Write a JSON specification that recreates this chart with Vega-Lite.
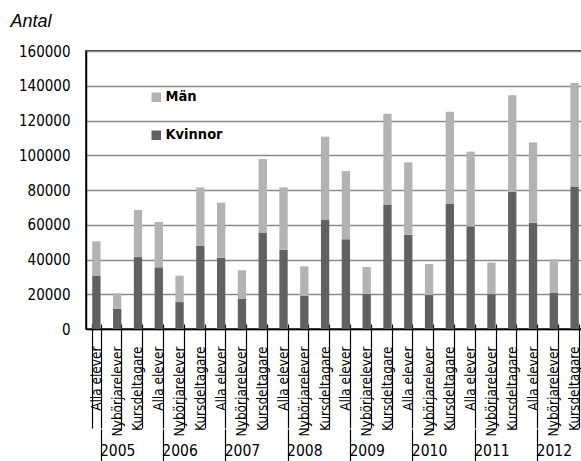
{
  "$schema": "https://vega.github.io/schema/vega-lite/v6.json",
  "width": 499,
  "height": 278,
  "autosize": {"type": "none"},
  "padding": {"left": 86, "top": 51, "right": 0, "bottom": 132},
  "config": {"font": "DejaVu Sans Condensed", "view": {"stroke": "#000", "strokeWidth": 1.5}},
  "data": {"values": [
    {"k": "2005|Alla elever", "sex": "Kvinnor", "v": 30500}, {"k": "2005|Alla elever", "sex": "Män", "v": 20000},
    {"k": "2005|Nybörjarelever", "sex": "Kvinnor", "v": 11500}, {"k": "2005|Nybörjarelever", "sex": "Män", "v": 9000},
    {"k": "2005|Kursdeltagare", "sex": "Kvinnor", "v": 41400}, {"k": "2005|Kursdeltagare", "sex": "Män", "v": 27100},
    {"k": "2006|Alla elever", "sex": "Kvinnor", "v": 35500}, {"k": "2006|Alla elever", "sex": "Män", "v": 26100},
    {"k": "2006|Nybörjarelever", "sex": "Kvinnor", "v": 15500}, {"k": "2006|Nybörjarelever", "sex": "Män", "v": 15200},
    {"k": "2006|Kursdeltagare", "sex": "Kvinnor", "v": 47800}, {"k": "2006|Kursdeltagare", "sex": "Män", "v": 33700},
    {"k": "2007|Alla elever", "sex": "Kvinnor", "v": 41000}, {"k": "2007|Alla elever", "sex": "Män", "v": 31700},
    {"k": "2007|Nybörjarelever", "sex": "Kvinnor", "v": 17300}, {"k": "2007|Nybörjarelever", "sex": "Män", "v": 16500},
    {"k": "2007|Kursdeltagare", "sex": "Kvinnor", "v": 55600}, {"k": "2007|Kursdeltagare", "sex": "Män", "v": 42200},
    {"k": "2008|Alla elever", "sex": "Kvinnor", "v": 45600}, {"k": "2008|Alla elever", "sex": "Män", "v": 35900},
    {"k": "2008|Nybörjarelever", "sex": "Kvinnor", "v": 19200}, {"k": "2008|Nybörjarelever", "sex": "Män", "v": 16900},
    {"k": "2008|Kursdeltagare", "sex": "Kvinnor", "v": 62700}, {"k": "2008|Kursdeltagare", "sex": "Män", "v": 48000},
    {"k": "2009|Alla elever", "sex": "Kvinnor", "v": 51600}, {"k": "2009|Alla elever", "sex": "Män", "v": 39300},
    {"k": "2009|Nybörjarelever", "sex": "Kvinnor", "v": 20100}, {"k": "2009|Nybörjarelever", "sex": "Män", "v": 15600},
    {"k": "2009|Kursdeltagare", "sex": "Kvinnor", "v": 71600}, {"k": "2009|Kursdeltagare", "sex": "Män", "v": 52300},
    {"k": "2010|Alla elever", "sex": "Kvinnor", "v": 54300}, {"k": "2010|Alla elever", "sex": "Män", "v": 41600},
    {"k": "2010|Nybörjarelever", "sex": "Kvinnor", "v": 19600}, {"k": "2010|Nybörjarelever", "sex": "Män", "v": 17800},
    {"k": "2010|Kursdeltagare", "sex": "Kvinnor", "v": 72300}, {"k": "2010|Kursdeltagare", "sex": "Män", "v": 52800},
    {"k": "2011|Alla elever", "sex": "Kvinnor", "v": 59100}, {"k": "2011|Alla elever", "sex": "Män", "v": 43000},
    {"k": "2011|Nybörjarelever", "sex": "Kvinnor", "v": 20100}, {"k": "2011|Nybörjarelever", "sex": "Män", "v": 18100},
    {"k": "2011|Kursdeltagare", "sex": "Kvinnor", "v": 79000}, {"k": "2011|Kursdeltagare", "sex": "Män", "v": 55500},
    {"k": "2012|Alla elever", "sex": "Kvinnor", "v": 61200}, {"k": "2012|Alla elever", "sex": "Män", "v": 46200},
    {"k": "2012|Nybörjarelever", "sex": "Kvinnor", "v": 20700}, {"k": "2012|Nybörjarelever", "sex": "Män", "v": 19400},
    {"k": "2012|Kursdeltagare", "sex": "Kvinnor", "v": 81700}, {"k": "2012|Kursdeltagare", "sex": "Män", "v": 59900}
  ]},
  "encoding": {
    "y": {
      "field": "v", "type": "quantitative",
      "scale": {"domain": [0, 160000]},
      "axis": {
        "title": "Antal", "titleAngle": 0, "titleAlign": "left", "titleBaseline": "alphabetic",
        "titleX": -76, "titleY": -25, "titleFont": "Liberation Sans", "titleFontStyle": "italic",
        "titleFontWeight": "normal", "titleFontSize": 18, "titleColor": "#000",
        "values": [0, 20000, 40000, 60000, 80000, 100000, 120000, 140000, 160000],
        "format": "d", "labelFont": "DejaVu Sans Condensed", "labelFontSize": 15, "labelColor": "#000", "labelOverlap": false,
        "ticks": false, "tickSize": 0, "labelPadding": 16,
        "domainColor": "#000", "domainWidth": 1.5,
        "gridColor": "#8a8a8a", "gridWidth": 1.5
      }
    }
  },
  "layer": [
    {
      "mark": {"type": "bar"},
      "encoding": {
        "x": {
          "field": "k", "type": "nominal", "sort": null,
          "scale": {"paddingInner": 0.6, "paddingOuter": 0.3},
          "axis": {
            "orient": "bottom", "title": null,
            "labelExpr": "split(datum.value,'|')[1]",
            "labelFont": "DejaVu Sans Condensed",
            "labelAngle": -90, "labelFontSize": 13.5, "labelColor": "#000",
            "tickBand": "extent", "tickSize": 99, "tickColor": "#000", "tickWidth": 1.2,
            "labelPadding": -82, "domainColor": "#000", "domainWidth": 1.5
          }
        },
        "color": {
          "field": "sex", "type": "nominal",
          "scale": {"domain": ["Män", "Kvinnor"], "range": ["#b3b3b3", "#616161"]},
          "legend": {
            "title": null, "orient": "none", "legendX": 63, "legendY": 39, "padding": 0,
            "symbolType": "square", "symbolSize": 90, "symbolStrokeWidth": 0,
            "labelFont": "DejaVu Sans Condensed",
            "labelFontSize": 14.5, "labelFontWeight": "bold", "labelColor": "#000",
            "labelOffset": 2, "rowPadding": 23
          }
        },
        "order": {"field": "sex", "sort": "ascending"}
      }
    },
    {
      "mark": {"type": "bar", "opacity": 0},
      "encoding": {
        "x": {
          "field": "k", "type": "nominal", "sort": null,
          "axis": {
            "orient": "bottom", "offset": 100, "domain": false, "title": null,
            "labelAngle": 0,
            "labelExpr": "split(datum.value,'|')[1] == 'Nybörjarelever' ? split(datum.value,'|')[0] : ''",
            "labelFont": "DejaVu Sans Condensed",
            "labelFontSize": 15.5, "labelColor": "#000", "labelPadding": -18,
            "tickBand": "extent", "tickSize": 32, "tickColor": "#000", "tickWidth": 1.2,
            "tickOpacity": {"condition": {"test": "split(datum.value,'|')[1] == 'Alla elever'", "value": 1}, "value": 0}
          }
        }
      }
    },
    {
      "mark": {"type": "bar", "opacity": 0},
      "encoding": {
        "x": {
          "field": "k", "type": "nominal", "sort": null,
          "axis": {
            "orient": "bottom", "offset": -5, "domain": false, "title": null,
            "labels": false,
            "tickBand": "extent", "tickSize": 6, "tickColor": "#000", "tickWidth": 1.2
          }
        }
      }
    }
  ],
  "resolve": {"axis": {"x": "independent"}}
}
